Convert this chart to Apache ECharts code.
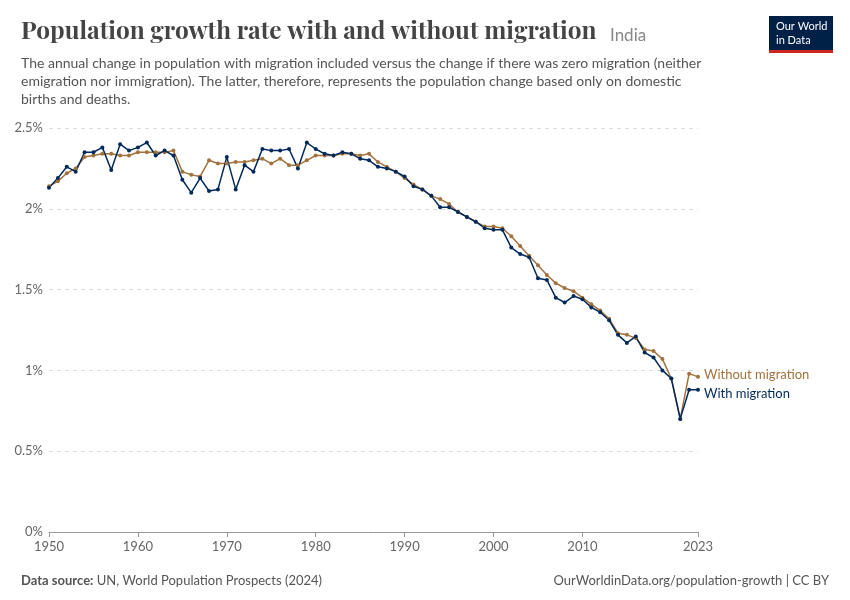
<!DOCTYPE html>
<html><head><meta charset="utf-8">
<script src="https://cdn.jsdelivr.net/npm/echarts@6/dist/echarts.min.js"></script>
<style>html,body{margin:0;background:#fff}#c{width:850px;height:600px}</style>
</head><body><div id="c"></div>
<script>
const years = [];
for (let y = 1950; y <= 2023; y++) years.push(String(y));
const withMigration = [
  2.13,2.19,2.26,2.23,2.35,2.35,2.38,2.24,2.40,2.36,
  2.38,2.41,2.33,2.36,2.33,2.18,2.10,2.19,2.11,2.12,
  2.32,2.12,2.27,2.23,2.37,2.36,2.36,2.37,2.25,2.41,
  2.37,2.34,2.33,2.35,2.34,2.31,2.30,2.26,2.25,2.23,
  2.20,2.14,2.12,2.08,2.01,2.01,1.98,1.95,1.92,1.88,
  1.87,1.87,1.76,1.72,1.70,1.57,1.56,1.45,1.42,1.46,
  1.44,1.39,1.36,1.31,1.22,1.17,1.21,1.11,1.08,1.00,
  0.95,0.70,0.88,0.88
];
const withoutMigration = [
  2.14,2.17,2.22,2.25,2.32,2.33,2.34,2.34,2.33,2.33,
  2.35,2.35,2.35,2.35,2.36,2.23,2.21,2.20,2.30,2.28,
  2.28,2.29,2.29,2.30,2.31,2.28,2.31,2.27,2.27,2.30,
  2.33,2.33,2.33,2.34,2.34,2.33,2.34,2.29,2.26,2.23,
  2.19,2.15,2.12,2.08,2.06,2.03,1.98,1.95,1.92,1.89,
  1.89,1.88,1.83,1.77,1.71,1.65,1.59,1.54,1.51,1.49,
  1.45,1.41,1.37,1.32,1.23,1.22,1.20,1.13,1.12,1.07,
  0.95,0.70,0.98,0.96
];
const shownYears = ['1950','1960','1970','1980','1990','2000','2010','2023'];

const chart = echarts.init(document.getElementById('c'));
const showTick = (i, v) => shownYears.includes(v);
const mk = (name, data, color, offY) => ({
  name, type: 'line', data, color,
  symbol: 'circle', symbolSize: 4, lineStyle: { width: 1.5 },
  endLabel: { show: true, formatter: name, color, fontSize: 13, fontFamily: 'Lato', distance: 6, offset: [0, offY] },
  animation: false
});
chart.setOption({
  textStyle: { fontFamily: 'Lato' },
  title: [
    { text: 'Population growth rate with and without migration', left: 16, top: 14,
      textStyle: { fontFamily: 'Playfair Display, DejaVu Serif, serif', fontSize: 24.4, fontWeight: 'bold', color: '#444' } },
    { text: 'India', left: 605, top: 22, textStyle: { fontSize: 17, color: '#888', fontWeight: 'normal' } },
    { text: 'The annual change in population with migration included versus the change if there was zero migration (neither\nemigration nor immigration). The latter, therefore, represents the population change based only on domestic\nbirths and deaths.',
      left: 16, top: 49, textStyle: { fontSize: 14, color: '#555', fontWeight: 'normal', lineHeight: 18 } },
    { text: '{b|Data source:} UN, World Population Prospects (2024)', left: 16, top: 569,
      textStyle: { fontSize: 13, color: '#555', fontWeight: 'normal', rich: { b: { fontWeight: 'bold', fontSize: 13, color: '#555' } } } },
    { text: 'OurWorldinData.org/population-growth | CC BY', right: 16, top: 569,
      textStyle: { fontSize: 13, color: '#555', fontWeight: 'normal' } }
  ],
  graphic: [
    { type: 'rect', left: 769, top: 16, shape: { width: 64, height: 34 }, style: { fill: '#002147' } },
    { type: 'rect', left: 769, top: 50, shape: { width: 64, height: 3 }, style: { fill: '#ce261e' } },
    { type: 'text', left: 776, top: 19, style: { text: 'Our World\nin Data', fill: '#fff', font: '11px Lato', lineHeight: 14 } }
  ],
  grid: { left: 49, right: 152, top: 128, bottom: 68 },
  xAxis: {
    type: 'category', data: years, boundaryGap: false,
    axisLine: { lineStyle: { color: '#999' } },
    axisTick: { interval: showTick, length: 5, lineStyle: { color: '#999' } },
    axisLabel: { interval: showTick, color: '#666', fontSize: 13 }
  },
  yAxis: {
    type: 'value', min: 0, max: 2.5, interval: 0.5,
    axisLabel: { formatter: v => v + '%', color: '#666', fontSize: 13, margin: 6 },
    splitLine: { lineStyle: { type: [4, 4], color: '#ddd' } },
    axisLine: { show: false }, axisTick: { show: false }
  },
  series: [
    mk('Without migration', withoutMigration, '#a2723d', -2),
    mk('With migration', withMigration, '#00295b', 4)
  ]
});
</script></body></html>
